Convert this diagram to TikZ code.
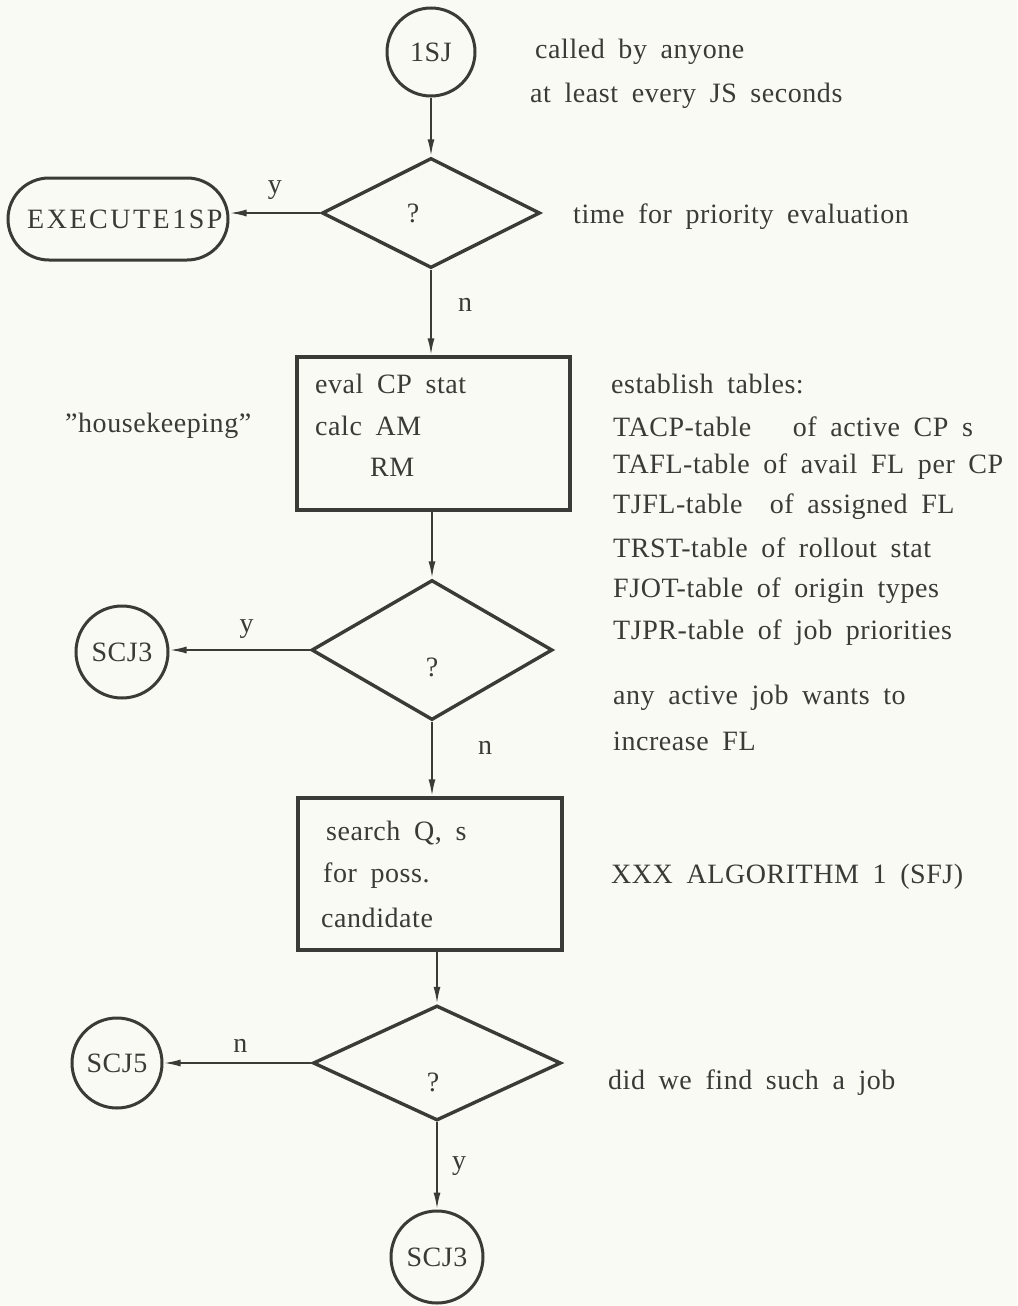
\documentclass[tikz,border=0pt]{standalone}
\usepackage{fontspec}
\setmainfont{Liberation Serif}[LetterSpace=2, WordSpace=1.8]
\usetikzlibrary{shapes.geometric,arrows.meta}
\definecolor{ink}{HTML}{3A3A36}
\definecolor{paper}{HTML}{FAFAF5}
\tikzset{
  every node/.style={text=ink, font=\fontsize{28}{34}\selectfont},
  conn/.style={draw=ink, line width=2pt},
  arr/.style={conn, -{Latex[length=17pt,width=7pt]}},
  circ/.style={circle, draw=ink, line width=3pt, inner sep=0pt, minimum size=88pt},
  dia/.style={diamond, draw=ink, line width=3.4pt, inner sep=0pt},
  procbox/.style={rectangle, draw=ink, line width=3.4pt, inner sep=0pt},
  term/.style={rectangle, rounded corners=41pt, draw=ink, line width=3pt, minimum width=220pt, minimum height=82pt},
  txt/.style={anchor=west, inner sep=0pt},
  lbl/.style={inner sep=0pt}
}
\begin{document}
\begin{tikzpicture}[x=1pt,y=-1pt]
\fill[paper] (0,0) rectangle (1017,1306);
\useasboundingbox (0,0) rectangle (1017,1306);

% nodes
\node[circ] (s1) at (431,52) {1SJ};
\node[dia, minimum width=218pt, minimum height=110pt] (d1) at (431,213) {};
\node[lbl] (q1) at (413,213) {?};
\node[term] (exec) at (118,219) {};
\node[lbl, anchor=west] (exect) at (27,219) {\addfontfeatures{LetterSpace=9}EXECUTE1SP};
\node[procbox, minimum width=273pt, minimum height=153pt] (b1) at (433.5,433.5) {};
\node[dia, minimum width=241pt, minimum height=140pt] (d2) at (432,650) {};
\node[lbl] (q2) at (432,667) {?};
\node[circ, minimum size=92pt] (c3) at (122,652) {SCJ3};
\node[procbox, minimum width=264pt, minimum height=152pt] (b2) at (430,874) {};
\node[dia, minimum width=248pt, minimum height=115pt] (d3) at (437,1063) {};
\node[lbl] (q3) at (433,1082) {?};
\node[circ, minimum size=90pt] (c5) at (117,1063) {SCJ5};
\node[circ, minimum size=92pt] (c3b) at (437,1257) {SCJ3};

% box texts
\node[txt] (b1a) at (315,384) {eval CP stat};
\node[txt] (b1b) at (315,426) {calc AM};
\node[txt] (b1c) at (370,467) {RM};
\node[txt] (b2a) at (326,833) {search Q, s};
\node[txt] (b2b) at (323,876) {for poss.};
\node[txt] (b2c) at (321,918) {candidate};

% side comments
\node[txt] (cm1) at (535,52) {called by anyone};
\node[txt] (cm2) at (530,96) {at least every JS seconds};
\node[txt] (cm3) at (573,217) {time for priority evaluation};
\node[txt] (hk) at (65,426) {''housekeeping''};
\node[txt] (t0) at (611,384) {establish tables:};
\node[txt] (t1) at (613,427) {TACP-table \hspace{28pt}of active CP s};
\node[txt] (t2) at (613,467) {TAFL-table of avail FL per CP};
\node[txt] (t3) at (613,507) {TJFL-table \ of assigned FL};
\node[txt] (t4) at (613,548) {TRST-table of rollout stat};
\node[txt] (t5) at (613,591) {FJOT-table of origin types};
\node[txt] (t6) at (613,633) {TJPR-table of job priorities};
\node[txt] (cm4) at (613,698) {any active job wants to};
\node[txt] (cm5) at (613,741) {increase FL};
\node[txt] (cm6) at (611,877) {XXX ALGORITHM 1 (SFJ)};
\node[txt] (cm7) at (608,1083) {did we find such a job};

% connectors
\draw[arr] (s1.south) -- (d1.north);
\draw[arr] (d1.west) -- node[lbl, above=12pt] (ly1) {y} (d1.west -| exec.east);
\draw[arr] (d1.south) -- (b1.north -| d1.south);
\node[lbl] (ln1) at (465,305) {n};
\draw[arr] (b1.south -| d2.north) -- (d2.north);
\draw[arr] (d2.west) -- node[lbl, above=10pt, pos=0.45] (ly2) {y} (d2.west -| c3.east);
\draw[arr] (d2.south) -- (b2.north -| d2.south);
\node[lbl] (ln2) at (485,748) {n};
\draw[arr] (b2.south -| d3.north) -- (d3.north);
\draw[arr] (d3.west) -- node[lbl, above=10pt, pos=0.48] (ln3) {n} (d3.west -| c5.east);
\draw[arr] (d3.south) -- node[lbl, right=14pt] (ly3) {y} (c3b.north);
\end{tikzpicture}
\end{document}
